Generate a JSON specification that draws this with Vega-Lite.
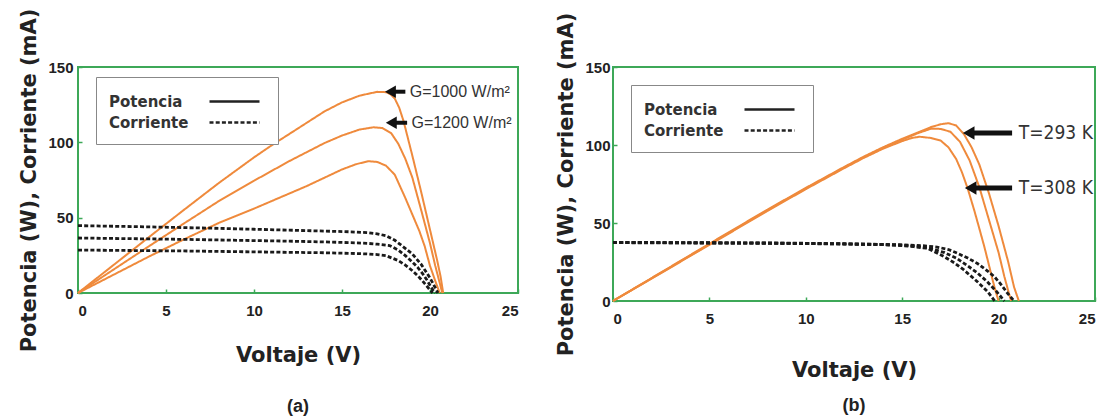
{
  "$schema": "https://vega.github.io/schema/vega-lite/v6.json",
  "background": "white",
  "padding": {"left": 17, "top": 7, "right": 2, "bottom": 0},
  "config": {
    "view": {"stroke": "#3da858", "strokeWidth": 2},
    "axis": {
      "grid": false, "domain": false,
      "tickColor": "#3da858", "tickSize": -4, "tickWidth": 1.5,
      "labelFont": "Liberation Sans", "labelFontWeight": "bold", "labelFontSize": 15, "labelColor": "#222",
      "titleFont": "DejaVu Sans", "titleFontWeight": "bold", "titleFontSize": 21, "titleColor": "#222"
    },
    "legend": {
      "title": null, "orient": "none", "symbolType": "M-2.5,0H2.5", "symbolSize": 400,
      "symbolStrokeColor": "#222", "symbolStrokeWidth": 2.5, "symbolOffset": 114, "labelOffset": -137,
      "labelFont": "DejaVu Sans", "labelFontWeight": "bold", "labelFontSize": 15, "labelColor": "#333",
      "strokeColor": "#888", "fillColor": "white", "padding": 13, "rowPadding": 1
    },
    "title": {"font": "Liberation Sans", "fontWeight": "bold", "fontSize": 18, "color": "#222", "orient": "bottom", "anchor": "middle"}
  },
  "resolve": {"scale": {"strokeDash": "independent", "color": "independent", "strokeWidth": "independent", "x": "independent", "y": "independent"}, "legend": {"strokeDash": "independent"}},
  "spacing": 34,
  "datasets": {
    "a": [
      {"V":0,"val":0,"s":"P1","type":"Potencia"},{"V":2,"val":18.4,"s":"P1","type":"Potencia"},{"V":4,"val":36.8,"s":"P1","type":"Potencia"},{"V":6,"val":55,"s":"P1","type":"Potencia"},{"V":8,"val":73,"s":"P1","type":"Potencia"},{"V":10,"val":90,"s":"P1","type":"Potencia"},{"V":11,"val":98,"s":"P1","type":"Potencia"},{"V":12,"val":105.5,"s":"P1","type":"Potencia"},{"V":13,"val":113,"s":"P1","type":"Potencia"},{"V":14,"val":120.5,"s":"P1","type":"Potencia"},{"V":15,"val":126.5,"s":"P1","type":"Potencia"},{"V":16,"val":131,"s":"P1","type":"Potencia"},{"V":17,"val":133.5,"s":"P1","type":"Potencia"},{"V":17.5,"val":133.3,"s":"P1","type":"Potencia"},{"V":17.75,"val":132,"s":"P1","type":"Potencia"},{"V":18,"val":129,"s":"P1","type":"Potencia"},{"V":18.25,"val":123,"s":"P1","type":"Potencia"},{"V":18.5,"val":114,"s":"P1","type":"Potencia"},{"V":19,"val":91,"s":"P1","type":"Potencia"},{"V":19.5,"val":67,"s":"P1","type":"Potencia"},{"V":20,"val":42,"s":"P1","type":"Potencia"},{"V":20.4,"val":22,"s":"P1","type":"Potencia"},{"V":20.6,"val":11,"s":"P1","type":"Potencia"},{"V":20.75,"val":0,"s":"P1","type":"Potencia"},
      {"V":0,"val":0,"s":"P2","type":"Potencia"},{"V":2,"val":15.4,"s":"P2","type":"Potencia"},{"V":4,"val":30.8,"s":"P2","type":"Potencia"},{"V":6,"val":46,"s":"P2","type":"Potencia"},{"V":8,"val":61,"s":"P2","type":"Potencia"},{"V":10,"val":74.5,"s":"P2","type":"Potencia"},{"V":11,"val":81,"s":"P2","type":"Potencia"},{"V":12,"val":87.5,"s":"P2","type":"Potencia"},{"V":13,"val":93.5,"s":"P2","type":"Potencia"},{"V":14,"val":99.5,"s":"P2","type":"Potencia"},{"V":15,"val":104.5,"s":"P2","type":"Potencia"},{"V":16,"val":108.5,"s":"P2","type":"Potencia"},{"V":16.8,"val":110,"s":"P2","type":"Potencia"},{"V":17.3,"val":109.5,"s":"P2","type":"Potencia"},{"V":17.8,"val":106,"s":"P2","type":"Potencia"},{"V":18.2,"val":99,"s":"P2","type":"Potencia"},{"V":18.6,"val":89,"s":"P2","type":"Potencia"},{"V":19,"val":76.5,"s":"P2","type":"Potencia"},{"V":19.5,"val":55,"s":"P2","type":"Potencia"},{"V":20,"val":33,"s":"P2","type":"Potencia"},{"V":20.3,"val":18,"s":"P2","type":"Potencia"},{"V":20.5,"val":9,"s":"P2","type":"Potencia"},{"V":20.7,"val":0,"s":"P2","type":"Potencia"},
      {"V":0,"val":0,"s":"P3","type":"Potencia"},{"V":2,"val":12,"s":"P3","type":"Potencia"},{"V":4,"val":24,"s":"P3","type":"Potencia"},{"V":6,"val":35.5,"s":"P3","type":"Potencia"},{"V":8,"val":46.5,"s":"P3","type":"Potencia"},{"V":10,"val":56,"s":"P3","type":"Potencia"},{"V":11,"val":61,"s":"P3","type":"Potencia"},{"V":12,"val":66,"s":"P3","type":"Potencia"},{"V":13,"val":71,"s":"P3","type":"Potencia"},{"V":14,"val":76.5,"s":"P3","type":"Potencia"},{"V":15,"val":82,"s":"P3","type":"Potencia"},{"V":15.8,"val":85.5,"s":"P3","type":"Potencia"},{"V":16.5,"val":87.5,"s":"P3","type":"Potencia"},{"V":17,"val":87,"s":"P3","type":"Potencia"},{"V":17.5,"val":84.5,"s":"P3","type":"Potencia"},{"V":18,"val":78.5,"s":"P3","type":"Potencia"},{"V":18.6,"val":63,"s":"P3","type":"Potencia"},{"V":19,"val":52,"s":"P3","type":"Potencia"},{"V":19.4,"val":41,"s":"P3","type":"Potencia"},{"V":19.7,"val":31,"s":"P3","type":"Potencia"},{"V":20,"val":18,"s":"P3","type":"Potencia"},{"V":20.3,"val":8,"s":"P3","type":"Potencia"},{"V":20.55,"val":0,"s":"P3","type":"Potencia"},
      {"V":0,"val":44.7,"s":"C1","type":"Corriente"},{"V":2,"val":44.3,"s":"C1","type":"Corriente"},{"V":4,"val":43.9,"s":"C1","type":"Corriente"},{"V":6,"val":43.4,"s":"C1","type":"Corriente"},{"V":8,"val":42.9,"s":"C1","type":"Corriente"},{"V":10,"val":42.3,"s":"C1","type":"Corriente"},{"V":12,"val":41.7,"s":"C1","type":"Corriente"},{"V":14,"val":41.1,"s":"C1","type":"Corriente"},{"V":15.5,"val":40.6,"s":"C1","type":"Corriente"},{"V":16.5,"val":40,"s":"C1","type":"Corriente"},{"V":17,"val":39.3,"s":"C1","type":"Corriente"},{"V":17.5,"val":38,"s":"C1","type":"Corriente"},{"V":18,"val":35,"s":"C1","type":"Corriente"},{"V":18.5,"val":30.5,"s":"C1","type":"Corriente"},{"V":19,"val":25.9,"s":"C1","type":"Corriente"},{"V":19.5,"val":19,"s":"C1","type":"Corriente"},{"V":20,"val":10,"s":"C1","type":"Corriente"},{"V":20.3,"val":3.5,"s":"C1","type":"Corriente"},{"V":20.45,"val":0,"s":"C1","type":"Corriente"},
      {"V":0,"val":36.5,"s":"C2","type":"Corriente"},{"V":2,"val":36.2,"s":"C2","type":"Corriente"},{"V":4,"val":35.9,"s":"C2","type":"Corriente"},{"V":6,"val":35.6,"s":"C2","type":"Corriente"},{"V":8,"val":35.2,"s":"C2","type":"Corriente"},{"V":10,"val":34.8,"s":"C2","type":"Corriente"},{"V":12,"val":34.4,"s":"C2","type":"Corriente"},{"V":14,"val":33.9,"s":"C2","type":"Corriente"},{"V":15.5,"val":33.4,"s":"C2","type":"Corriente"},{"V":16.5,"val":32.9,"s":"C2","type":"Corriente"},{"V":17,"val":32.4,"s":"C2","type":"Corriente"},{"V":17.7,"val":31.5,"s":"C2","type":"Corriente"},{"V":18.2,"val":28.5,"s":"C2","type":"Corriente"},{"V":18.6,"val":24.8,"s":"C2","type":"Corriente"},{"V":19,"val":20.5,"s":"C2","type":"Corriente"},{"V":19.3,"val":17,"s":"C2","type":"Corriente"},{"V":19.6,"val":12.5,"s":"C2","type":"Corriente"},{"V":19.85,"val":8.2,"s":"C2","type":"Corriente"},{"V":20.05,"val":4,"s":"C2","type":"Corriente"},{"V":20.2,"val":1.5,"s":"C2","type":"Corriente"},{"V":20.3,"val":0,"s":"C2","type":"Corriente"},
      {"V":0,"val":28.5,"s":"C3","type":"Corriente"},{"V":2,"val":28.3,"s":"C3","type":"Corriente"},{"V":4,"val":28.1,"s":"C3","type":"Corriente"},{"V":6,"val":27.9,"s":"C3","type":"Corriente"},{"V":8,"val":27.6,"s":"C3","type":"Corriente"},{"V":10,"val":27.3,"s":"C3","type":"Corriente"},{"V":12,"val":27,"s":"C3","type":"Corriente"},{"V":14,"val":26.7,"s":"C3","type":"Corriente"},{"V":15.5,"val":26.3,"s":"C3","type":"Corriente"},{"V":16.5,"val":25.9,"s":"C3","type":"Corriente"},{"V":17,"val":25.5,"s":"C3","type":"Corriente"},{"V":17.5,"val":24.8,"s":"C3","type":"Corriente"},{"V":18.2,"val":21.5,"s":"C3","type":"Corriente"},{"V":18.6,"val":18.5,"s":"C3","type":"Corriente"},{"V":19,"val":14.8,"s":"C3","type":"Corriente"},{"V":19.3,"val":11.5,"s":"C3","type":"Corriente"},{"V":19.56,"val":8.2,"s":"C3","type":"Corriente"},{"V":19.8,"val":4.8,"s":"C3","type":"Corriente"},{"V":20.04,"val":1.5,"s":"C3","type":"Corriente"},{"V":20.15,"val":0,"s":"C3","type":"Corriente"}
    ],
    "b": [
      {"V":0,"val":0,"s":"R1","type":"Potencia"},{"V":2,"val":14.7,"s":"R1","type":"Potencia"},{"V":4,"val":29.4,"s":"R1","type":"Potencia"},{"V":6,"val":44,"s":"R1","type":"Potencia"},{"V":8,"val":58.5,"s":"R1","type":"Potencia"},{"V":10,"val":72.5,"s":"R1","type":"Potencia"},{"V":12,"val":86,"s":"R1","type":"Potencia"},{"V":13,"val":92.5,"s":"R1","type":"Potencia"},{"V":14,"val":98.5,"s":"R1","type":"Potencia"},{"V":15,"val":104,"s":"R1","type":"Potencia"},{"V":16,"val":109,"s":"R1","type":"Potencia"},{"V":16.5,"val":111.5,"s":"R1","type":"Potencia"},{"V":17,"val":113.3,"s":"R1","type":"Potencia"},{"V":17.4,"val":114,"s":"R1","type":"Potencia"},{"V":17.8,"val":112.5,"s":"R1","type":"Potencia"},{"V":18.2,"val":107,"s":"R1","type":"Potencia"},{"V":18.6,"val":98.5,"s":"R1","type":"Potencia"},{"V":19,"val":87.5,"s":"R1","type":"Potencia"},{"V":19.5,"val":69,"s":"R1","type":"Potencia"},{"V":20,"val":48,"s":"R1","type":"Potencia"},{"V":20.5,"val":25,"s":"R1","type":"Potencia"},{"V":20.8,"val":9,"s":"R1","type":"Potencia"},{"V":21.05,"val":0,"s":"R1","type":"Potencia"},
      {"V":0,"val":0,"s":"R2","type":"Potencia"},{"V":2,"val":14.5,"s":"R2","type":"Potencia"},{"V":4,"val":29.1,"s":"R2","type":"Potencia"},{"V":6,"val":43.6,"s":"R2","type":"Potencia"},{"V":8,"val":58.1,"s":"R2","type":"Potencia"},{"V":10,"val":72.1,"s":"R2","type":"Potencia"},{"V":12,"val":85.6,"s":"R2","type":"Potencia"},{"V":13,"val":92.1,"s":"R2","type":"Potencia"},{"V":14,"val":98.1,"s":"R2","type":"Potencia"},{"V":15,"val":103.4,"s":"R2","type":"Potencia"},{"V":15.8,"val":107.5,"s":"R2","type":"Potencia"},{"V":16.5,"val":110.5,"s":"R2","type":"Potencia"},{"V":17,"val":110.3,"s":"R2","type":"Potencia"},{"V":17.5,"val":108.5,"s":"R2","type":"Potencia"},{"V":18,"val":102,"s":"R2","type":"Potencia"},{"V":18.5,"val":90,"s":"R2","type":"Potencia"},{"V":19,"val":73,"s":"R2","type":"Potencia"},{"V":19.5,"val":52,"s":"R2","type":"Potencia"},{"V":20,"val":31,"s":"R2","type":"Potencia"},{"V":20.3,"val":15.6,"s":"R2","type":"Potencia"},{"V":20.5,"val":6.5,"s":"R2","type":"Potencia"},{"V":20.65,"val":0,"s":"R2","type":"Potencia"},
      {"V":0,"val":0,"s":"R3","type":"Potencia"},{"V":2,"val":14.3,"s":"R3","type":"Potencia"},{"V":4,"val":28.8,"s":"R3","type":"Potencia"},{"V":6,"val":43.2,"s":"R3","type":"Potencia"},{"V":8,"val":57.7,"s":"R3","type":"Potencia"},{"V":10,"val":71.7,"s":"R3","type":"Potencia"},{"V":12,"val":85.2,"s":"R3","type":"Potencia"},{"V":13,"val":91.7,"s":"R3","type":"Potencia"},{"V":14,"val":97.6,"s":"R3","type":"Potencia"},{"V":15,"val":102.5,"s":"R3","type":"Potencia"},{"V":15.5,"val":104.5,"s":"R3","type":"Potencia"},{"V":15.9,"val":105.3,"s":"R3","type":"Potencia"},{"V":16.5,"val":104.5,"s":"R3","type":"Potencia"},{"V":17,"val":102.8,"s":"R3","type":"Potencia"},{"V":17.4,"val":98.5,"s":"R3","type":"Potencia"},{"V":17.8,"val":91,"s":"R3","type":"Potencia"},{"V":18.1,"val":82.5,"s":"R3","type":"Potencia"},{"V":18.4,"val":72,"s":"R3","type":"Potencia"},{"V":18.74,"val":58,"s":"R3","type":"Potencia"},{"V":19,"val":46.5,"s":"R3","type":"Potencia"},{"V":19.26,"val":34.8,"s":"R3","type":"Potencia"},{"V":19.5,"val":23,"s":"R3","type":"Potencia"},{"V":19.7,"val":13,"s":"R3","type":"Potencia"},{"V":19.85,"val":6,"s":"R3","type":"Potencia"},{"V":20,"val":0,"s":"R3","type":"Potencia"},
      {"V":0,"val":37.6,"s":"D1","type":"Corriente"},{"V":2,"val":37.5,"s":"D1","type":"Corriente"},{"V":4,"val":37.4,"s":"D1","type":"Corriente"},{"V":6,"val":37.3,"s":"D1","type":"Corriente"},{"V":8,"val":37.2,"s":"D1","type":"Corriente"},{"V":10,"val":37,"s":"D1","type":"Corriente"},{"V":12,"val":36.7,"s":"D1","type":"Corriente"},{"V":14,"val":36.3,"s":"D1","type":"Corriente"},{"V":15,"val":36,"s":"D1","type":"Corriente"},{"V":16,"val":35.5,"s":"D1","type":"Corriente"},{"V":16.8,"val":34.6,"s":"D1","type":"Corriente"},{"V":17.4,"val":33,"s":"D1","type":"Corriente"},{"V":17.87,"val":30.6,"s":"D1","type":"Corriente"},{"V":18.4,"val":27.5,"s":"D1","type":"Corriente"},{"V":18.9,"val":24.1,"s":"D1","type":"Corriente"},{"V":19.4,"val":19.5,"s":"D1","type":"Corriente"},{"V":19.78,"val":15.6,"s":"D1","type":"Corriente"},{"V":20.1,"val":11,"s":"D1","type":"Corriente"},{"V":20.47,"val":4.9,"s":"D1","type":"Corriente"},{"V":20.8,"val":0,"s":"D1","type":"Corriente"},
      {"V":0,"val":37.5,"s":"D2","type":"Corriente"},{"V":2,"val":37.4,"s":"D2","type":"Corriente"},{"V":4,"val":37.3,"s":"D2","type":"Corriente"},{"V":6,"val":37.2,"s":"D2","type":"Corriente"},{"V":8,"val":37.1,"s":"D2","type":"Corriente"},{"V":10,"val":36.9,"s":"D2","type":"Corriente"},{"V":12,"val":36.6,"s":"D2","type":"Corriente"},{"V":14,"val":36.2,"s":"D2","type":"Corriente"},{"V":15,"val":35.8,"s":"D2","type":"Corriente"},{"V":15.8,"val":35,"s":"D2","type":"Corriente"},{"V":16.5,"val":33.5,"s":"D2","type":"Corriente"},{"V":17.2,"val":31,"s":"D2","type":"Corriente"},{"V":17.8,"val":27.5,"s":"D2","type":"Corriente"},{"V":18.4,"val":22.5,"s":"D2","type":"Corriente"},{"V":18.9,"val":18,"s":"D2","type":"Corriente"},{"V":19.4,"val":12.5,"s":"D2","type":"Corriente"},{"V":19.9,"val":6,"s":"D2","type":"Corriente"},{"V":20.3,"val":0,"s":"D2","type":"Corriente"},
      {"V":0,"val":37.4,"s":"D3","type":"Corriente"},{"V":2,"val":37.3,"s":"D3","type":"Corriente"},{"V":4,"val":37.2,"s":"D3","type":"Corriente"},{"V":6,"val":37.1,"s":"D3","type":"Corriente"},{"V":8,"val":37,"s":"D3","type":"Corriente"},{"V":10,"val":36.8,"s":"D3","type":"Corriente"},{"V":12,"val":36.5,"s":"D3","type":"Corriente"},{"V":14,"val":36.1,"s":"D3","type":"Corriente"},{"V":15,"val":35.5,"s":"D3","type":"Corriente"},{"V":15.6,"val":34.8,"s":"D3","type":"Corriente"},{"V":16.3,"val":33.8,"s":"D3","type":"Corriente"},{"V":17.18,"val":28.4,"s":"D3","type":"Corriente"},{"V":17.7,"val":24.5,"s":"D3","type":"Corriente"},{"V":18.2,"val":19.9,"s":"D3","type":"Corriente"},{"V":18.9,"val":12.4,"s":"D3","type":"Corriente"},{"V":19.43,"val":6,"s":"D3","type":"Corriente"},{"V":19.8,"val":0,"s":"D3","type":"Corriente"}
    ],
    "notesA": [
      {"x":17.75,"x2":18.6,"y":133.6,"tx":18.85,"label":"G=1000 W/m²"},
      {"x":17.8,"x2":18.7,"y":113,"tx":18.95,"label":"G=1200 W/m²"}
    ],
    "notesB": [
      {"x":18.45,"x2":20.7,"y":107.7,"tx":21.05,"label":"T=293 K"},
      {"x":18.55,"x2":20.7,"y":72.4,"tx":21.05,"label":"T=308 K"}
    ]
  },
  "hconcat": [
    {
      "width": 440, "height": 226,
      "title": {"text": "(a)", "offset": 33},
      "layer": [
        {
          "data": {"name": "a"},
          "mark": {"type": "line"},
          "encoding": {
            "x": {"field": "V", "type": "quantitative", "scale": {"domain": [0, 25], "nice": false}, "axis": {"title": "Voltaje (V)", "values": [0,5,10,15,20,25], "labelPadding": 14, "titlePadding": 26}},
            "y": {"field": "val", "type": "quantitative", "scale": {"domain": [0, 150], "nice": false}, "axis": {"title": "Potencia (W), Corriente (mA)", "values": [0,50,100,150], "labelPadding": 9, "titlePadding": 8}},
            "detail": {"field": "s"},
            "color": {"field": "s", "type": "nominal", "scale": {"domain": ["P1","P2","P3","C1","C2","C3"], "range": ["#ef8a3c","#ef8a3c","#ef8a3c","#1a1a1a","#1a1a1a","#1a1a1a"]}, "legend": null},
            "strokeWidth": {"field": "s", "type": "nominal", "scale": {"type": "ordinal", "domain": ["P1","P2","P3","C1","C2","C3"], "range": [2, 2, 2, 2.8, 2.8, 2.8]}, "legend": null},
            "strokeDash": {"field": "type", "type": "nominal", "scale": {"domain": ["Potencia","Corriente"], "range": [[1,0],[4,2.2]]}, "legend": {"legendX": 18, "legendY": 10}},
            "order": {"field": "V", "type": "quantitative"}
          }
        },
        {
          "data": {"name": "notesA"},
          "mark": {"type": "rule", "strokeWidth": 4, "color": "#111"},
          "encoding": {"x": {"field": "x", "type": "quantitative"}, "x2": {"field": "x2"}, "y": {"field": "y", "type": "quantitative"}}
        },
        {
          "data": {"name": "notesA"},
          "mark": {"type": "point", "shape": "triangle-left", "filled": true, "size": 160, "color": "#111", "opacity": 1},
          "encoding": {"x": {"field": "x", "type": "quantitative"}, "y": {"field": "y", "type": "quantitative"}}
        },
        {
          "data": {"name": "notesA"},
          "mark": {"type": "text", "align": "left", "baseline": "middle", "font": "Liberation Sans", "fontSize": 16, "color": "#333"},
          "encoding": {"x": {"field": "tx", "type": "quantitative"}, "y": {"field": "y", "type": "quantitative"}, "text": {"field": "label"}}
        }
      ]
    },
    {
      "width": 482, "height": 234,
      "title": {"text": "(b)", "offset": 17},
      "layer": [
        {
          "data": {"name": "b"},
          "mark": {"type": "line"},
          "encoding": {
            "x": {"field": "V", "type": "quantitative", "scale": {"domain": [0, 25], "nice": false}, "axis": {"title": "Voltaje (V)", "values": [0,5,10,15,20,25], "labelPadding": 14, "titlePadding": 33}},
            "y": {"field": "val", "type": "quantitative", "scale": {"domain": [0, 150], "nice": false}, "axis": {"title": "Potencia (W), Corriente (mA)", "values": [0,50,100,150], "labelPadding": 7, "titlePadding": 8}},
            "detail": {"field": "s"},
            "color": {"field": "s", "type": "nominal", "scale": {"domain": ["R1","R2","R3","D1","D2","D3"], "range": ["#ef8a3c","#ef8a3c","#ef8a3c","#1a1a1a","#1a1a1a","#1a1a1a"]}, "legend": null},
            "strokeWidth": {"field": "s", "type": "nominal", "scale": {"type": "ordinal", "domain": ["R1","R2","R3","D1","D2","D3"], "range": [2, 2, 2, 2.8, 2.8, 2.8]}, "legend": null},
            "strokeDash": {"field": "type", "type": "nominal", "scale": {"domain": ["Potencia","Corriente"], "range": [[1,0],[4,2.2]]}, "legend": {"legendX": 18, "legendY": 18}},
            "order": {"field": "V", "type": "quantitative"}
          }
        },
        {
          "data": {"name": "notesB"},
          "mark": {"type": "rule", "strokeWidth": 5, "color": "#111"},
          "encoding": {"x": {"field": "x", "type": "quantitative"}, "x2": {"field": "x2"}, "y": {"field": "y", "type": "quantitative"}}
        },
        {
          "data": {"name": "notesB"},
          "mark": {"type": "point", "shape": "triangle-left", "filled": true, "size": 180, "color": "#111", "opacity": 1},
          "encoding": {"x": {"field": "x", "type": "quantitative"}, "y": {"field": "y", "type": "quantitative"}}
        },
        {
          "data": {"name": "notesB"},
          "mark": {"type": "text", "align": "left", "baseline": "middle", "font": "Liberation Sans Narrow, DejaVu Sans Condensed, Liberation Sans", "fontSize": 19, "color": "#333"},
          "encoding": {"x": {"field": "tx", "type": "quantitative"}, "y": {"field": "y", "type": "quantitative"}, "text": {"field": "label"}}
        }
      ]
    }
  ]
}
